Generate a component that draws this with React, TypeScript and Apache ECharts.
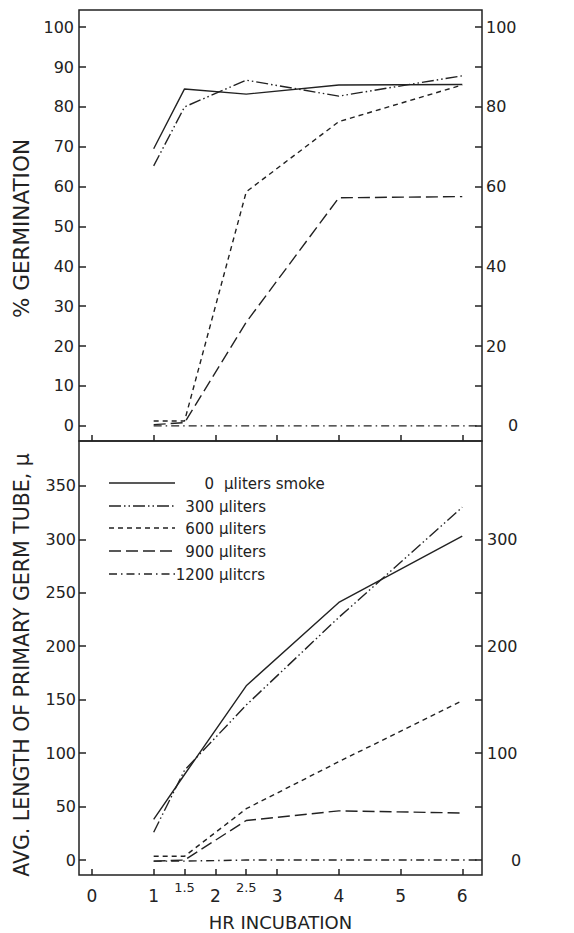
import React, { useEffect, useRef } from "react";
import * as echarts from "echarts";

// ---- data ----
const hours = [1, 1.5, 2.5, 4, 6];
const hours1200 = [1, 1.5, 2.5, 4, 6, 6.3];
const doses = ["0", "300", "600", "900", "1200"];
const doseSuffix = ["µliters smoke", "µliters", "µliters", "µliters", "µlitcrs"];

// % germination (upper panel)
const germ0 = [69.5, 84.5, 83.2, 85.5, 85.6];
const germ300 = [65.2, 80.0, 86.7, 82.7, 87.8];
const germ600 = [1.2, 1.2, 58.7, 76.3, 85.5];
const germ900 = [0.3, 0.8, 26.0, 57.2, 57.5];
const germ1200 = [0, 0, 0, 0, 0, 0];

// avg germ-tube length, µ (lower panel)
const len0 = [38, 80, 163, 241, 303];
const len300 = [26, 84, 145, 227, 330];
const len600 = [3.5, 3.5, 48, 92, 149];
const len900 = [-1, 0, 37, 46, 44];
const len1200 = [-1, -1, 0, 0, 0, 0];

const germLeftTicks = [0, 10, 20, 30, 40, 50, 60, 70, 80, 90, 100];
const germRightLabels = [0, 20, 40, 60, 80, 100];
const lenLeftTicks = [0, 50, 100, 150, 200, 250, 300, 350];
const lenRightLabels = [0, 100, 200, 300];
const upperXTicks = [0, 1, 2, 3, 4, 5, 6];
const lowerXTicks = [0, 1, 1.5, 2, 2.5, 3, 4, 5, 6];

const FONT = "DejaVu Sans";
const INK = "#222";

const dashStyles: any[] = [
  "solid",
  [12, 3, 1.5, 3, 1.5, 3],
  [5, 4],
  [12, 5],
  [8, 4, 1.5, 4],
];

export default function App() {
  const ref = useRef<HTMLDivElement>(null);
  useEffect(() => {
    if (!ref.current) return;
    const chart = echarts.init(ref.current, null, { renderer: "svg" });

    const pair = (xs: number[], ys: number[]) => ys.map((y, i) => [xs[i], y]);
    const upper = [germ0, germ300, germ600, germ900, germ1200];
    const lower = [len0, len300, len600, len900, len1200];

    const series: any[] = [];
    upper.forEach((ys, i) => {
      series.push({
        type: "line",
        xAxisIndex: 0,
        yAxisIndex: 0,
        data: pair(i === 4 ? hours1200 : hours, ys),
        symbol: "none",
        lineStyle: { color: INK, width: 1.4, type: dashStyles[i] },
      });
    });
    lower.forEach((ys, i) => {
      series.push({
        type: "line",
        xAxisIndex: 1,
        yAxisIndex: 2,
        data: pair(i === 4 ? hours1200 : hours, ys),
        symbol: "none",
        lineStyle: { color: INK, width: 1.4, type: dashStyles[i] },
      });
    });

    const tickBase = { show: true, inside: true, length: 7, lineStyle: { color: INK, width: 1.5 } };
    const labelBase = { color: INK, fontFamily: FONT, fontSize: 16 };
    const noLine = { show: false, onZero: false };

    const legendY = [484, 507, 529, 552, 575];
    const graphics: any[] = [];
    doses.forEach((d, i) => {
      const dash = dashStyles[i] === "solid" ? null : dashStyles[i];
      graphics.push({
        type: "line",
        shape: { x1: 109, y1: legendY[i] - 1, x2: 175, y2: legendY[i] - 1 },
        style: { stroke: INK, lineWidth: 1.4, lineDash: dash },
      });
      graphics.push({
        type: "text",
        x: 214,
        y: legendY[i],
        style: { text: d, fill: INK, font: `15px "${FONT}"`, textAlign: "right", textVerticalAlign: "middle" },
      });
      graphics.push({
        type: "text",
        x: i === 0 ? 224 : 219,
        y: legendY[i],
        style: { text: doseSuffix[i], fill: INK, font: `15px "${FONT}"`, textAlign: "left", textVerticalAlign: "middle" },
      });
    });

    chart.setOption({
      animation: false,
      backgroundColor: "#fff",
      grid: [
        { left: 79, right: 92, top: 10, height: 431, show: true, borderColor: INK, borderWidth: 1.5 },
        { left: 79, right: 92, top: 441, height: 434, show: true, borderColor: INK, borderWidth: 1.5 },
      ],
      xAxis: [
        {
          type: "value",
          gridIndex: 0,
          min: -0.21,
          max: 6.32,
          axisLine: noLine,
          splitLine: { show: false },
          axisTick: { ...tickBase, length: 6, customValues: upperXTicks },
          axisLabel: { show: false },
        },
        {
          type: "value",
          gridIndex: 1,
          min: -0.21,
          max: 6.32,
          axisLine: noLine,
          splitLine: { show: false },
          axisTick: { ...tickBase, length: 6, customValues: lowerXTicks },
          axisLabel: {
            ...labelBase,
            margin: 6,
            customValues: lowerXTicks,
            formatter: (v: number) => (v === 1.5 || v === 2.5 ? `{s|${v}}` : `{n|${v}}`),
            rich: {
              n: { fontSize: 17, fontFamily: FONT, color: INK, padding: [6, 0, 0, 0] },
              s: { fontSize: 13, fontFamily: FONT, color: INK, padding: [0, 0, 0, 0] },
            },
          },
          name: "HR INCUBATION",
          nameLocation: "middle",
          nameGap: 38,
          nameTextStyle: { color: INK, fontFamily: FONT, fontSize: 18 },
        },
      ],
      yAxis: [
        {
          type: "value",
          gridIndex: 0,
          min: -3.8,
          max: 104.3,
          axisLine: noLine,
          splitLine: { show: false },
          axisTick: { ...tickBase, customValues: germLeftTicks },
          axisLabel: { ...labelBase, margin: 5, customValues: germLeftTicks },
          name: "% GERMINATION",
          nameLocation: "middle",
          nameRotate: 90,
          nameGap: 46,
          nameTextStyle: { color: INK, fontFamily: FONT, fontSize: 21.5, padding: [0, 6, 0, 0] },
        },
        {
          type: "value",
          gridIndex: 0,
          position: "right",
          min: -3.8,
          max: 104.3,
          axisLine: noLine,
          splitLine: { show: false },
          axisTick: { ...tickBase, customValues: germLeftTicks },
          axisLabel: {
            ...labelBase,
            margin: 4,
            customValues: germRightLabels,
            formatter: (v: number) => (v === 0 ? `{z|0}` : `${v}`),
            rich: { z: { fontSize: 16, fontFamily: FONT, color: INK, padding: [0, 0, 0, 22] } },
          },
        },
        {
          type: "value",
          gridIndex: 1,
          min: -14,
          max: 392,
          axisLine: noLine,
          splitLine: { show: false },
          axisTick: { ...tickBase, customValues: lenLeftTicks },
          axisLabel: { ...labelBase, margin: 3, customValues: lenLeftTicks },
          name: "AVG. LENGTH OF PRIMARY GERM TUBE, µ",
          nameLocation: "middle",
          nameRotate: 90,
          nameGap: 47,
          nameTextStyle: { color: INK, fontFamily: FONT, fontSize: 20.5, padding: [0, 14, 0, 0] },
        },
        {
          type: "value",
          gridIndex: 1,
          position: "right",
          min: -14,
          max: 392,
          axisLine: noLine,
          splitLine: { show: false },
          axisTick: { ...tickBase, customValues: lenLeftTicks },
          axisLabel: {
            ...labelBase,
            margin: 5,
            customValues: lenRightLabels,
            formatter: (v: number) => (v === 0 ? `{z|0}` : `${v}`),
            rich: { z: { fontSize: 16, fontFamily: FONT, color: INK, padding: [0, 0, 0, 24] } },
          },
        },
      ],
      graphic: graphics,
      series,
    });

    return () => chart.dispose();
  }, []);

  return <div ref={ref} style={{ width: 574, height: 933, position: "absolute", left: 0, top: 0 }} />;
}
